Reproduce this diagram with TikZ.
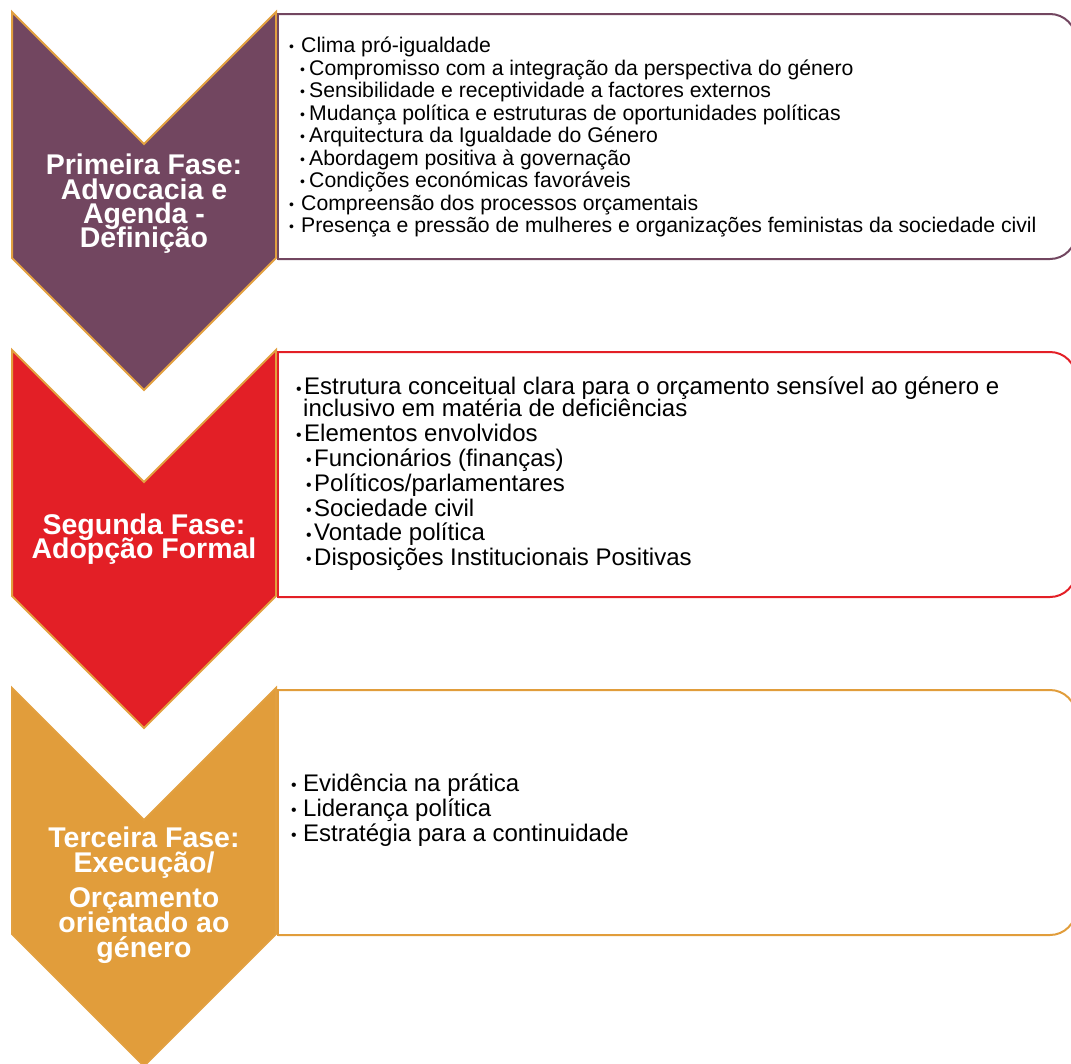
\documentclass[tikz,border=0pt]{standalone}
\usepackage{fontspec}
\setmainfont{Liberation Sans}
\definecolor{phaseA}{RGB}{114,70,96}
\definecolor{phaseB}{RGB}{227,31,38}
\definecolor{phaseC}{RGB}{225,157,59}
\definecolor{chevline}{RGB}{226,160,64}
% bullet: #1 = indent, #2 = room taken by the bullet
\newcommand{\bul}[2]{\hspace*{#1}\makebox[#2][l]{\raisebox{0.03em}{\scalebox{0.66}{\textbullet}}}}
% fixed line pitch, whatever the accents
\newcommand{\tight}{\lineskiplimit=-40pt\lineskip=0pt}
\begin{document}
\begin{tikzpicture}[x=1pt,y=-1pt,
  chevron/.style={line width=2pt, draw=chevline, line join=miter},
  panel/.style={line width=2pt, rounded corners=26pt},
  panelside/.style={line width=2pt},
  phaselabel/.style={text=white, align=center, inner sep=0pt,
    font=\bfseries\fontsize{28.5}{24.3}\selectfont\tight},
  itemsS/.style={align=left, anchor=west, inner sep=0pt,
    font=\fontsize{21.2}{22.5}\selectfont\tight},
  itemsL/.style={align=left, anchor=west, inner sep=0pt,
    font=\fontsize{24}{22}\selectfont\tight}]
\useasboundingbox (0,0) rectangle (1071,1063);

% phase chevrons
\foreach \t/\c in {12/phaseA, 350/phaseB, 688/phaseC}{
  \filldraw[chevron, fill=\c] (12,\t) -- (144,\t+132) -- (276,\t) -- (276,\t+246)
     -- (144,\t+378) -- (12,\t+246) -- cycle;
}

% content panels, rounded on the right only
\foreach \t/\c in {12/phaseA, 350/phaseB, 688/phaseC}{
  \draw[panel, draw=\c] (278,\t+2) -- (1076,\t+2) -- (1076,\t+247) -- (278,\t+247);
  \draw[panelside, draw=\c] (278,\t+1) -- (278,\t+248);
}

% phase titles
\node[phaselabel] (l1) at (144,204) {Primeira Fase:\\Advocacia e\\Agenda -\\Definição};
\node[phaselabel] (l2) at (144,539) {Segunda Fase:\\Adopção Formal};
\node[phaselabel, font=\bfseries\fontsize{28.5}{25}\selectfont\tight] (l3) at (144,895)
  {Terceira Fase:\\Execução/\\[10pt]Orçamento\\orientado ao\\género};

% panel contents
\node[itemsS] (t1) at (289,137) {%
\bul{0pt}{12pt}Clima pró-igualdade\\
\bul{11pt}{9pt}Compromisso com a integração da perspectiva do género\\
\bul{11pt}{9pt}Sensibilidade e receptividade a factores externos\\
\bul{11pt}{9pt}Mudança política e estruturas de oportunidades políticas\\
\bul{11pt}{9pt}Arquitectura da Igualdade do Género\\
\bul{11pt}{9pt}Abordagem positiva à governação\\
\bul{11pt}{9pt}Condições económicas favoráveis\\
\bul{0pt}{12pt}Compreensão dos processos orçamentais\\
\bul{0pt}{12pt}Presença e pressão de mulheres e organizações feministas da sociedade civil};

\node[itemsL] (t2) at (296,474) {%
\bul{0pt}{8pt}Estrutura conceitual clara para o orçamento sensível ao género e\\
\hspace*{7pt}inclusivo em matéria de deficiências\\[2.8pt]
\bul{0pt}{8pt}Elementos envolvidos\\[2.8pt]
\bul{10pt}{8pt}Funcionários (finanças)\\[2.8pt]
\bul{10pt}{8pt}Políticos/parlamentares\\[2.8pt]
\bul{10pt}{8pt}Sociedade civil\\[2.8pt]
\bul{10pt}{8pt}Vontade política\\[2.8pt]
\bul{10pt}{8pt}Disposições Institucionais Positivas};

\node[itemsL, font=\fontsize{24}{25}\selectfont\tight] (t3) at (291,810) {%
\bul{0pt}{12pt}Evidência na prática\\
\bul{0pt}{12pt}Liderança política\\
\bul{0pt}{12pt}Estratégia para a continuidade};
\end{tikzpicture}
\end{document}
